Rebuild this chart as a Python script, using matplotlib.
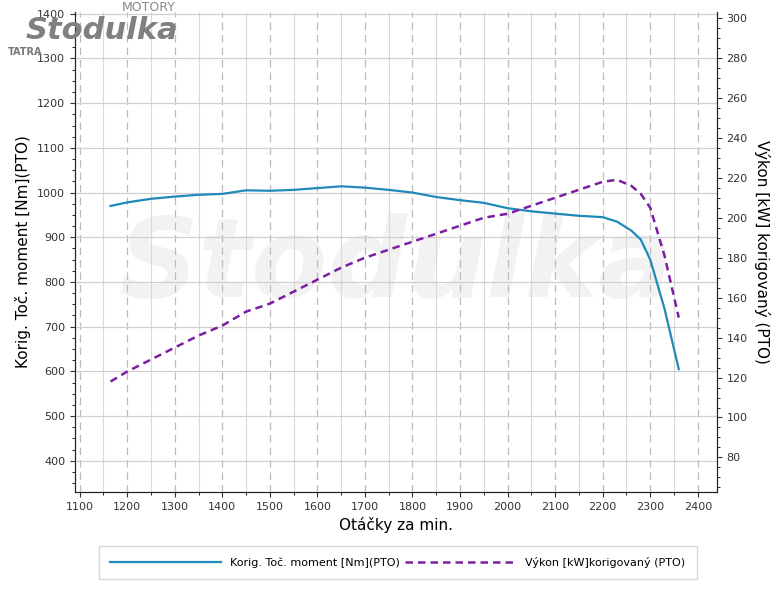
import matplotlib.pyplot as plt
from matplotlib.ticker import MultipleLocator

rpm = [1165, 1200, 1250, 1300, 1350, 1400, 1450, 1500, 1550, 1600, 1650, 1700, 1750,
       1800, 1850, 1900, 1950, 2000, 2050, 2100, 2150, 2200, 2230, 2260, 2280, 2300, 2330, 2360]
torque = [970, 978, 986, 991, 995, 997, 1005, 1004, 1006, 1010, 1014, 1011, 1006,
          1000, 990, 983, 977, 965, 958, 953, 948, 945, 935, 915, 895, 850, 740, 605]
power = [118, 123, 129, 135, 141, 146, 153, 157, 163, 169, 175, 180, 184,
         188, 192, 196, 200, 202, 206, 210, 214, 218, 219, 216, 212, 205, 181, 150]

fig = plt.figure(figsize=(7.8, 6.0), dpi=100)
ax = fig.add_axes([0.096, 0.18, 0.823, 0.80])
ax2 = ax.twinx()

ax.set_xlim(1090, 2440)
ax.set_ylim(330, 1404)
ax2.set_ylim(62.7, 303)

ax.xaxis.set_major_locator(MultipleLocator(100))
ax.xaxis.set_minor_locator(MultipleLocator(50))
ax.yaxis.set_major_locator(MultipleLocator(100))
ax.yaxis.set_minor_locator(MultipleLocator(25))
ax2.yaxis.set_major_locator(MultipleLocator(20))
ax2.yaxis.set_minor_locator(MultipleLocator(5))

ax.grid(which='major', axis='x', color='#bbbbbb', linestyle=(0, (6, 4)), lw=0.9)
ax.grid(which='minor', axis='x', color='#d8d8d8', lw=0.8)
ax.grid(which='major', axis='y', color='#d0d0d0', lw=0.9)

# watermark
ax.text(0.5, 0.47, "Stodulka", transform=ax.transAxes, fontsize=80, style='italic',
        color='#f2f2f2', ha='center', va='center', zorder=0, weight='bold')
# logo
fig.text(0.19, 0.999, "MOTORY", fontsize=9, color='#888888', ha='center', va='top')
fig.text(0.13, 0.925, "Stodulka", fontsize=22, style='italic', color='#808080',
         weight='bold', ha='center', va='bottom', zorder=0)
fig.text(0.01, 0.905, "TATRA", fontsize=7, color='#777777', weight='bold', va='bottom')

l1, = ax.plot(rpm, torque, color='#1f8ab8', lw=1.6, label='Korig. Toč. moment [Nm](PTO)')
l2, = ax2.plot(rpm, power, color='#7b1fa2', lw=1.8, linestyle=(0, (3, 2)),
               label='Výkon [kW]korigovaný (PTO)')

for a in (ax, ax2):
    a.tick_params(labelsize=8, colors='#333333')
    for s in a.spines.values():
        s.set_color('#222222')
ax.spines['top'].set_visible(False)
ax2.spines['top'].set_visible(False)

ax.set_xlabel('Otáčky za min.', fontsize=11)
ax.set_ylabel('Korig. Toč. moment [Nm](PTO)', fontsize=11)
ax2.set_ylabel('Výkon [kW] korigovaný (PTO)', fontsize=11, rotation=270, labelpad=16)

fig.legend(handles=[l1, l2], loc='lower center', bbox_to_anchor=(0.51, 0.025), ncol=2,
           fontsize=8, frameon=True, fancybox=False, edgecolor='#cccccc',
           handlelength=10, borderpad=1.0, columnspacing=0.5)

fig.savefig('out.png', dpi=100)
